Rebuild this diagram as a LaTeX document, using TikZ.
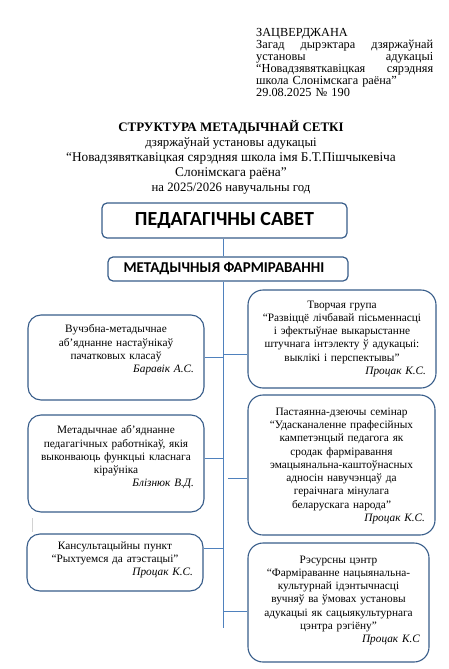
\documentclass[tikz,border=0pt]{standalone}
\usepackage{fontspec}
\setmainfont{Liberation Serif}
\newfontfamily\headfont{Carlito}
\usetikzlibrary{positioning,calc}
\definecolor{boxline}{RGB}{56,93,138}
\definecolor{linkline}{RGB}{79,129,189}

\begin{document}
\begin{tikzpicture}[
    x=1pt, y=-1pt,
    headbox/.style={draw=boxline, line width=1.2pt, rounded corners=5pt, fill=white, inner sep=0pt},
    unitbox/.style={draw=boxline, line width=1.1pt, rounded corners=13pt, fill=white, inner sep=0pt},
    unittext/.style={anchor=north, inner sep=0pt, font=\fontsize{11.3}{13.3}\selectfont, align=center},
    link/.style={draw=linkline, line width=0.9pt},
]
    \useasboundingbox (0,0) rectangle (449,669);

    % approval stamp and title
    \node[anchor=north west, inner sep=0pt, text width=177pt, align=left,
          font=\fontsize{12.3}{12}\selectfont] (stamp) at (256,28) {%
        ЗАЦВЕРДЖАНА\\
        Загад\hfill дырэктара\hfill дзяржаўнай\\
        установы\hfill адукацыі\\
        “Новадзявяткавіцкая\hfill сярэдняя\\
        школа Слонімскага раёна”\\
        29.08.2025 № 190};
    \node[align=center, inner sep=0pt, font=\fontsize{12.8}{15}\selectfont] (title) at (231,157) {%
        {\bfseries\fontsize{13}{15}\selectfont СТРУКТУРА МЕТАДЫЧНАЙ СЕТКІ}\\
        дзяржаўнай установы адукацыі\\
        {\fontsize{13.3}{15}\selectfont “Новадзявяткавіцкая сярэдняя школа імя Б.Т.Пішчыкевіча}\\
        {\fontsize{13.3}{15}\selectfont Слонімскага раёна”}\\
        на 2025/2026 навучальны год};

    % head boxes
    \node[headbox, minimum width=245pt, minimum height=35pt,
          font=\headfont\bfseries\fontsize{20}{22}\selectfont] (sovet) at (224.5,220.5) {ПЕДАГАГІЧНЫ САВЕТ};
    \node[headbox, minimum width=240pt, minimum height=24pt,
          font=\headfont\bfseries\fontsize{15}{16}\selectfont] (farm) at (228,269) {МЕТАДЫЧНЫЯ ФАРМІРАВАННІ\hspace*{8pt}};

    % left column
    \node[unitbox, minimum width=176pt, minimum height=85pt] (vuch) at (116,357.5) {};
    \node[unittext, text width=156pt] (vuchT) at ($(vuch.north)+(0,10)$) {%
        Вучэбна-метадычнае\\ аб’яднанне настаўнікаў\\ пачатковых класаў\\
        \hspace*{\fill}\textit{Баравік А.С.}};
    \node[unitbox, minimum width=176pt, minimum height=97pt] (metad) at (116,463.5) {};
    \node[unittext, text width=156pt] (metadT) at ($(metad.north)+(0,11)$) {%
        Метадычнае аб’яднанне\\ педагагічных работнікаў, якія\\ выконваюць функцыі класнага\\ кіраўніка\\
        \hspace*{\fill}\textit{Блізнюк В.Д.}};
    \node[unitbox, minimum width=176pt, minimum height=57pt] (kans) at (115,562.5) {};
    \node[unittext, text width=156pt] (kansT) at ($(kans.north)+(0,8)$) {%
        Кансультацыйны пункт\\ “Рыхтуемся да атэстацыі”\\
        \hspace*{\fill}\textit{Процак К.С.}};

    % right column
    \node[unitbox, rounded corners=15pt, minimum width=188pt, minimum height=98pt] (tvor) at (342,339) {};
    \node[unittext, text width=168pt] (tvorT) at ($(tvor.north)+(0,11)$) {%
        Творчая група\\ “Развіццё лічбавай пісьменнасці\\ і эфектыўнае выкарыстанне\\
        штучнага інтэлекту ў адукацыі:\\ выклікі і перспектывы”\\
        \hspace*{\fill}\textit{Процак К.С.}};
    \node[unitbox, rounded corners=15pt, minimum width=187pt, minimum height=140pt] (past) at (341.5,465) {};
    \node[unittext, text width=167pt] (pastT) at ($(past.north)+(0,13)$) {%
        Пастаянна-дзеючы семінар\\ “Удасканаленне прафесійных\\ кампетэнцый педагога як\\
        сродак фарміравання\\ эмацыянальна-каштоўнасных\\ адносін навучэнцаў да\\
        гераічнага мінулага\\ беларускага народа”\\
        \hspace*{\fill}\textit{Процак К.С.}};
    \node[unitbox, rounded corners=15pt, minimum width=181pt, minimum height=119pt] (res) at (338.5,602.5) {};
    \node[unittext, text width=163pt] (resT) at ($(res.north)+(0,13)$) {%
        Рэсурсны цэнтр\\ “Фарміраванне нацыянальна-\\ культурнай ідэнтычнасці\\
        вучняў ва ўмовах установы\\ адукацыі як сацыякультурнага\\ цэнтра рэгіёну”\\
        \hspace*{\fill}\textit{Процак К.С}};

    % spine and links
    \coordinate (spinebot) at (223,628);
    \coordinate (tvorL) at ([yshift=-15pt]tvor.west);
    \coordinate (metadR) at ([yshift=5.5pt]metad.east);
    \coordinate (pastL) at ([yshift=-13pt]past.west);
    \coordinate (kansR) at ([yshift=14.5pt]kans.east);
    \coordinate (resL) at ([yshift=-8.5pt]res.west);

    \draw[link] (sovet.south -| spinebot) -- (farm.north -| spinebot);
    \draw[link] (farm.south -| spinebot) -- (spinebot);
    \draw[link] (vuch.east) -- (vuch.east -| spinebot);
    \draw[link] (tvorL -| spinebot) -- (tvorL);
    \draw[link] (metadR) -- (metadR -| spinebot);
    \draw[link] ($(pastL -| spinebot)+(5,0)$) -- (pastL);
    \draw[link] (kansR) -- (kansR -| spinebot);
    \draw[link] (resL -| spinebot) -- (resL);

    \draw[gray!35, line width=0.6pt] (32,518) -- (32,532);
\end{tikzpicture}
\end{document}
